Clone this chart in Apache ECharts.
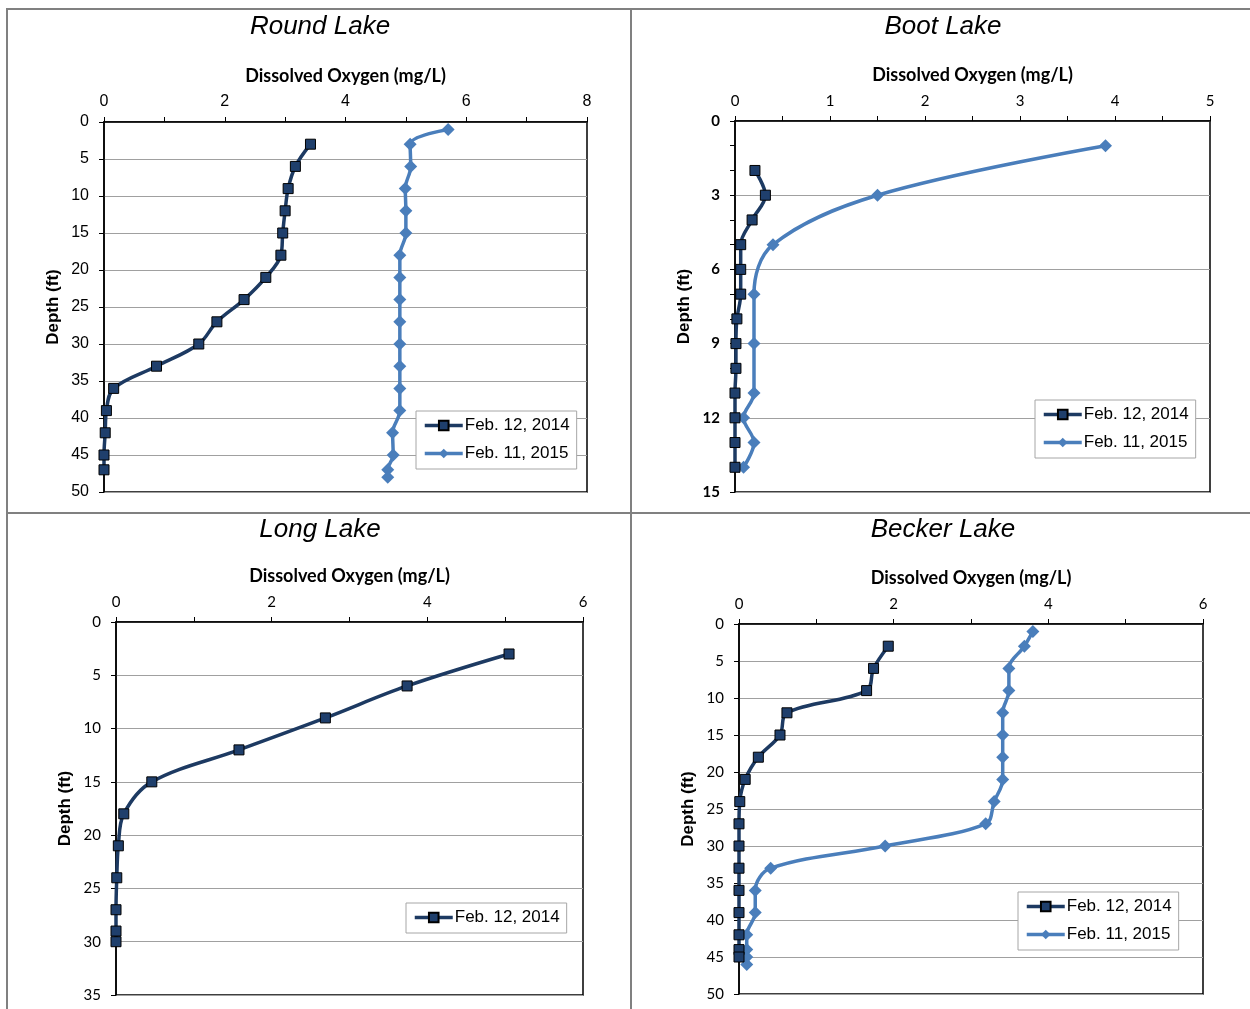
<!DOCTYPE html>
<html>
<head>
<meta charset="utf-8">
<script src="https://cdn.jsdelivr.net/npm/echarts@6/dist/echarts.min.js"></script>
<style>
  html, body { margin: 0; padding: 0; background: #fff; }
  #chart { width: 1250px; height: 1009px; }
</style>
</head>
<body>
<div id="chart"></div>
<script>
// Winter dissolved-oxygen profiles, four lakes (depth in ft, DO in mg/L)
const seriesNames = ['Feb. 12, 2014', 'Feb. 11, 2015'];

const roundDepth2014 = [3, 6, 9, 12, 15, 18, 21, 24, 27, 30, 33, 36, 39, 42, 45, 47];
const roundDO2014    = [3.42, 3.17, 3.05, 3.0, 2.96, 2.93, 2.68, 2.32, 1.87, 1.57, 0.87, 0.16, 0.04, 0.02, 0.0, 0.0];
const roundDepth2015 = [1, 3, 6, 9, 12, 15, 18, 21, 24, 27, 30, 33, 36, 39, 42, 45, 47, 48];
const roundDO2015    = [5.70, 5.07, 5.08, 4.99, 5.0, 5.0, 4.90, 4.90, 4.90, 4.90, 4.90, 4.90, 4.90, 4.90, 4.78, 4.79, 4.70, 4.70];

const bootDepth2014 = [2, 3, 4, 5, 6, 7, 8, 9, 10, 11, 12, 13, 14];
const bootDO2014    = [0.21, 0.32, 0.18, 0.06, 0.06, 0.06, 0.02, 0.01, 0.01, 0, 0, 0, 0];
const bootDepth2015 = [1, 3, 5, 7, 9, 11, 12, 13, 14];
const bootDO2015    = [3.90, 1.50, 0.40, 0.20, 0.20, 0.20, 0.09, 0.20, 0.09];

const longDepth2014 = [3, 6, 9, 12, 15, 18, 21, 24, 27, 29, 30];
const longDO2014    = [5.05, 3.74, 2.69, 1.58, 0.46, 0.10, 0.03, 0.01, 0, 0, 0];

const beckerDepth2014 = [3, 6, 9, 12, 15, 18, 21, 24, 27, 30, 33, 36, 39, 42, 44, 45];
const beckerDO2014    = [1.93, 1.74, 1.65, 0.62, 0.53, 0.25, 0.08, 0.01, 0, 0, 0, 0, 0, 0, 0, 0];
const beckerDepth2015 = [1, 3, 6, 9, 12, 15, 18, 21, 24, 27, 30, 33, 36, 39, 42, 44, 45, 46];
const beckerDO2015    = [3.80, 3.69, 3.49, 3.49, 3.41, 3.41, 3.41, 3.41, 3.30, 3.19, 1.89, 0.41, 0.21, 0.21, 0.10, 0.10, 0.10, 0.10];

const lakeTitles = ['Round Lake', 'Boot Lake', 'Long Lake', 'Becker Lake'];
const xAxisName = 'Dissolved Oxygen (mg/L)';
const yAxisName = 'Depth (ft)';

const pairs = (dox, depth) => dox.map((v, i) => [v, depth[i]]);

const DARK = '#1d3a62';
const LIGHT = '#4a7ebb';
const ARIAL = '"Liberation Sans", Arial, sans-serif';
const CAL = 'Lato, "Open Sans", sans-serif';

// panel geometry: plot rectangles in page pixels
const panels = [
  { l: 104, r: 587, t: 122, b: 492, xMax: 8, xInt: 2, xMinor: 2, yMax: 50, yInt: 5, yMinor: 0,
    xFont: ARIAL, xSize: 16, yFont: ARIAL, ySize: 16, yBold: false, titleX: 320, titleY: 14,
    legend: { left: 416, top: 411 }, series: [pairs(roundDO2014, roundDepth2014), pairs(roundDO2015, roundDepth2015)] },
  { l: 735, r: 1210, t: 121, b: 492, xMax: 5, xInt: 1, xMinor: 2, yMax: 15, yInt: 3, yMinor: 3,
    xFont: CAL, xSize: 15, yFont: CAL, ySize: 15, yBold: true, titleX: 943, titleY: 14,
    legend: { left: 1035, top: 400 }, series: [pairs(bootDO2014, bootDepth2014), pairs(bootDO2015, bootDepth2015)] },
  { l: 116, r: 583, t: 622, b: 995, xMax: 6, xInt: 2, xMinor: 2, yMax: 35, yInt: 5, yMinor: 0,
    xFont: CAL, xSize: 15, yFont: CAL, ySize: 15, yBold: false, titleX: 320, titleY: 517,
    legend: { left: 406, top: 903 }, series: [pairs(longDO2014, longDepth2014)] },
  { l: 739, r: 1203, t: 624, b: 994, xMax: 6, xInt: 2, xMinor: 2, yMax: 50, yInt: 5, yMinor: 0,
    xFont: CAL, xSize: 15, yFont: CAL, ySize: 15, yBold: false, titleX: 943, titleY: 517,
    legend: { left: 1018, top: 892 }, series: [pairs(beckerDO2014, beckerDepth2014), pairs(beckerDO2015, beckerDepth2015)] }
];

const W = 1250, H = 1009;
const option = {
  animation: false,
  backgroundColor: '#fff',
  title: [], grid: [], xAxis: [], yAxis: [], series: [], legend: [],
  graphic: [
    { type: 'rect', shape: { x: 7, y: 9, width: 1250, height: 1010 }, style: { fill: 'none', stroke: '#808080', lineWidth: 2 }, silent: true },
    { type: 'line', shape: { x1: 631, y1: 9, x2: 631, y2: 1012 }, style: { stroke: '#808080', lineWidth: 2 }, silent: true },
    { type: 'line', shape: { x1: 7, y1: 513, x2: 1252, y2: 513 }, style: { stroke: '#808080', lineWidth: 2 }, silent: true }
  ]
};

panels.forEach((p, i) => {
  option.title.push({
    text: lakeTitles[i], left: p.titleX, top: p.titleY, textAlign: 'center', padding: 0,
    textStyle: { fontFamily: ARIAL, fontStyle: 'italic', fontWeight: 'normal', fontSize: 26, color: '#000' }
  });
  option.grid.push({
    left: p.l, top: p.t, width: p.r - p.l, height: p.b - p.t,
    show: true, borderColor: '#000', borderWidth: 1.5, backgroundColor: 'transparent'
  });
  option.xAxis.push({
    type: 'value', gridIndex: i, position: 'top', min: 0, max: p.xMax, interval: p.xInt,
    name: xAxisName, nameLocation: 'middle', nameGap: 37,
    nameTextStyle: { fontFamily: CAL, fontWeight: 'bold', fontSize: 18, color: '#000' },
    axisLine: { show: true, lineStyle: { color: '#000', width: 1.5 } },
    axisTick: { show: true, length: 5, lineStyle: { color: '#000', width: 1 } },
    minorTick: { show: true, splitNumber: p.xMinor, length: 5, lineStyle: { color: '#000', width: 1 } },
    axisLabel: { margin: 12, fontFamily: p.xFont, fontSize: p.xSize, color: '#000' },
    splitLine: { show: false }
  });
  option.yAxis.push({
    type: 'value', gridIndex: i, inverse: true, min: 0, max: p.yMax, interval: p.yInt,
    name: yAxisName, nameLocation: 'middle', nameGap: 42, nameRotate: 90,
    nameTextStyle: { fontFamily: ARIAL, fontWeight: 'bold', fontSize: 17, color: '#000' },
    axisLine: { show: true, lineStyle: { color: '#000', width: 1.5 } },
    axisTick: { show: true, length: 5, lineStyle: { color: '#000', width: 1 } },
    minorTick: { show: p.yMinor > 0, splitNumber: p.yMinor || 5, length: 5, lineStyle: { color: '#000', width: 1 } },
    axisLabel: { margin: 15, fontFamily: p.yFont, fontSize: p.ySize, fontWeight: p.yBold ? 'bold' : 'normal', color: '#000' },
    splitLine: { show: true, lineStyle: { color: '#a0a0a0', width: 1.2 } }
  });
  const names = [];
  p.series.forEach((data, k) => {
    names.push(seriesNames[k]);
    const dark = k === 0;
    option.series.push({
      type: 'line', name: seriesNames[k], xAxisIndex: i, yAxisIndex: i, data: data,
      smooth: 0.35, clip: false,
      symbol: dark ? 'rect' : 'diamond', symbolSize: dark ? 10 : 13,
      lineStyle: { color: dark ? DARK : LIGHT, width: 3.5 },
      itemStyle: dark ? { color: '#1f3f6c', borderColor: '#000', borderWidth: 1 } : { color: LIGHT, borderColor: LIGHT, borderWidth: 0 },
      z: dark ? 3 : 2
    });
  });
  option.legend.push({
    left: p.legend.left, top: p.legend.top, orient: 'vertical', data: names,
    itemWidth: 38, itemHeight: 12, itemGap: 11,
    lineStyle: { width: 3.5 },
    padding: [6, 7, 7, 7], backgroundColor: '#fff', borderColor: '#a6a6a6', borderWidth: 1,
    textStyle: { fontFamily: ARIAL, fontSize: 17, color: '#000', padding: [0, 0, 0, -3] },
    selectedMode: false
  });
});

const chart = echarts.init(document.getElementById('chart'), null, { renderer: 'canvas', width: W, height: H });
chart.setOption(option);
</script>
</body>
</html>
